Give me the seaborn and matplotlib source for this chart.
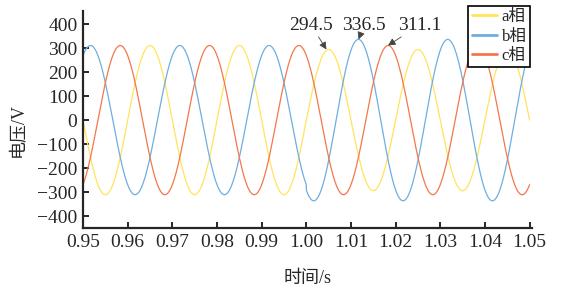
# Three-phase voltage waveforms around an amplitude step at t = 1.0 s

import numpy as np
import pandas as pd
import seaborn as sns
import matplotlib.pyplot as plt

# values
phases = ["a相", "b相", "c相"]
colors = ["#FFE45C", "#6EAEE0", "#F2784B"]
amp_before = [311.1, 311.1, 311.1]   # peak voltage before 1.0 s
amp_after = [294.5, 336.5, 311.1]    # peak voltage after 1.0 s
phase_deg = [0, -120, 120]
freq = 50.0
t_switch = 1.0
t_start, t_end = 0.95, 1.05

# peak annotations: (text, time of peak, value, text x, text y)
notes = [("294.5", 1.0045, 294.5, 1.0011, 396),
         ("336.5", 1.0117, 336.5, 1.0129, 396),
         ("311.1", 1.0183, 311.1, 1.0253, 396)]

xticks = np.round(np.arange(0.95, 1.0501, 0.01), 2)
yticks = np.arange(-400, 401, 100)

# build long-form table of the waveforms
t = np.linspace(t_start, t_end, 4001)
frames = []
for name, a0, a1, ph in zip(phases, amp_before, amp_after, phase_deg):
    amp = np.where(t < t_switch, a0, a1)
    v = amp * np.sin(2 * np.pi * freq * t + np.deg2rad(ph))
    frames.append(pd.DataFrame({"time": t, "voltage": v, "phase": name}))
df = pd.concat(frames, ignore_index=True)

sns.set_style("ticks")
plt.rcParams["font.family"] = ["Liberation Serif", "Noto Sans CJK SC"]
plt.rcParams["xtick.direction"] = "in"
plt.rcParams["ytick.direction"] = "in"

fig = plt.figure(figsize=(5.61, 2.89), dpi=100)
ax = fig.add_axes([0.148, 0.211, 0.800, 0.751])

sns.lineplot(data=df, x="time", y="voltage", hue="phase", palette=colors,
             estimator=None, sort=False, linewidth=0.9, ax=ax)

ax.set_xlim(t_start, t_end + 0.0005)
ax.set_ylim(-450, 455)
ax.set_xticks(xticks)
ax.set_xticklabels([f"{x:.2f}" for x in xticks])
ax.set_yticks(yticks)
ax.tick_params(labelsize=14, width=1.4, length=4, pad=4)
for s in ["top", "right"]:
    ax.spines[s].set_visible(False)
for s in ["left", "bottom"]:
    ax.spines[s].set_linewidth(1.6)

ax.set_xlabel("时间/s", fontsize=13)
ax.set_ylabel("电压/V", fontsize=13)
ax.xaxis.set_label_coords(0.5, -0.195)
ax.yaxis.set_label_coords(-0.125, 0.45)

for txt, tx, val, xt, yt in notes:
    ax.annotate(txt, xy=(tx, val), xytext=(xt, yt), fontsize=14,
                ha="center", va="center", annotation_clip=False,
                arrowprops=dict(arrowstyle="-|>", color="#444444", lw=0.6,
                                mutation_scale=11, shrinkA=0, shrinkB=0))

handles, labels = ax.get_legend_handles_labels()
leg = ax.legend(handles, labels, loc="upper right", bbox_to_anchor=(0.996, 1.023),
                fontsize=12, frameon=True, fancybox=False, handlelength=1.5,
                handletextpad=0.3, borderpad=0.2, labelspacing=0.2,
                borderaxespad=0)
for line in leg.get_lines():
    line.set_linewidth(2.0)
leg.get_frame().set_edgecolor("black")
leg.get_frame().set_linewidth(1.2)
leg.get_frame().set_alpha(1)

plt.savefig("out.png", dpi=100)
